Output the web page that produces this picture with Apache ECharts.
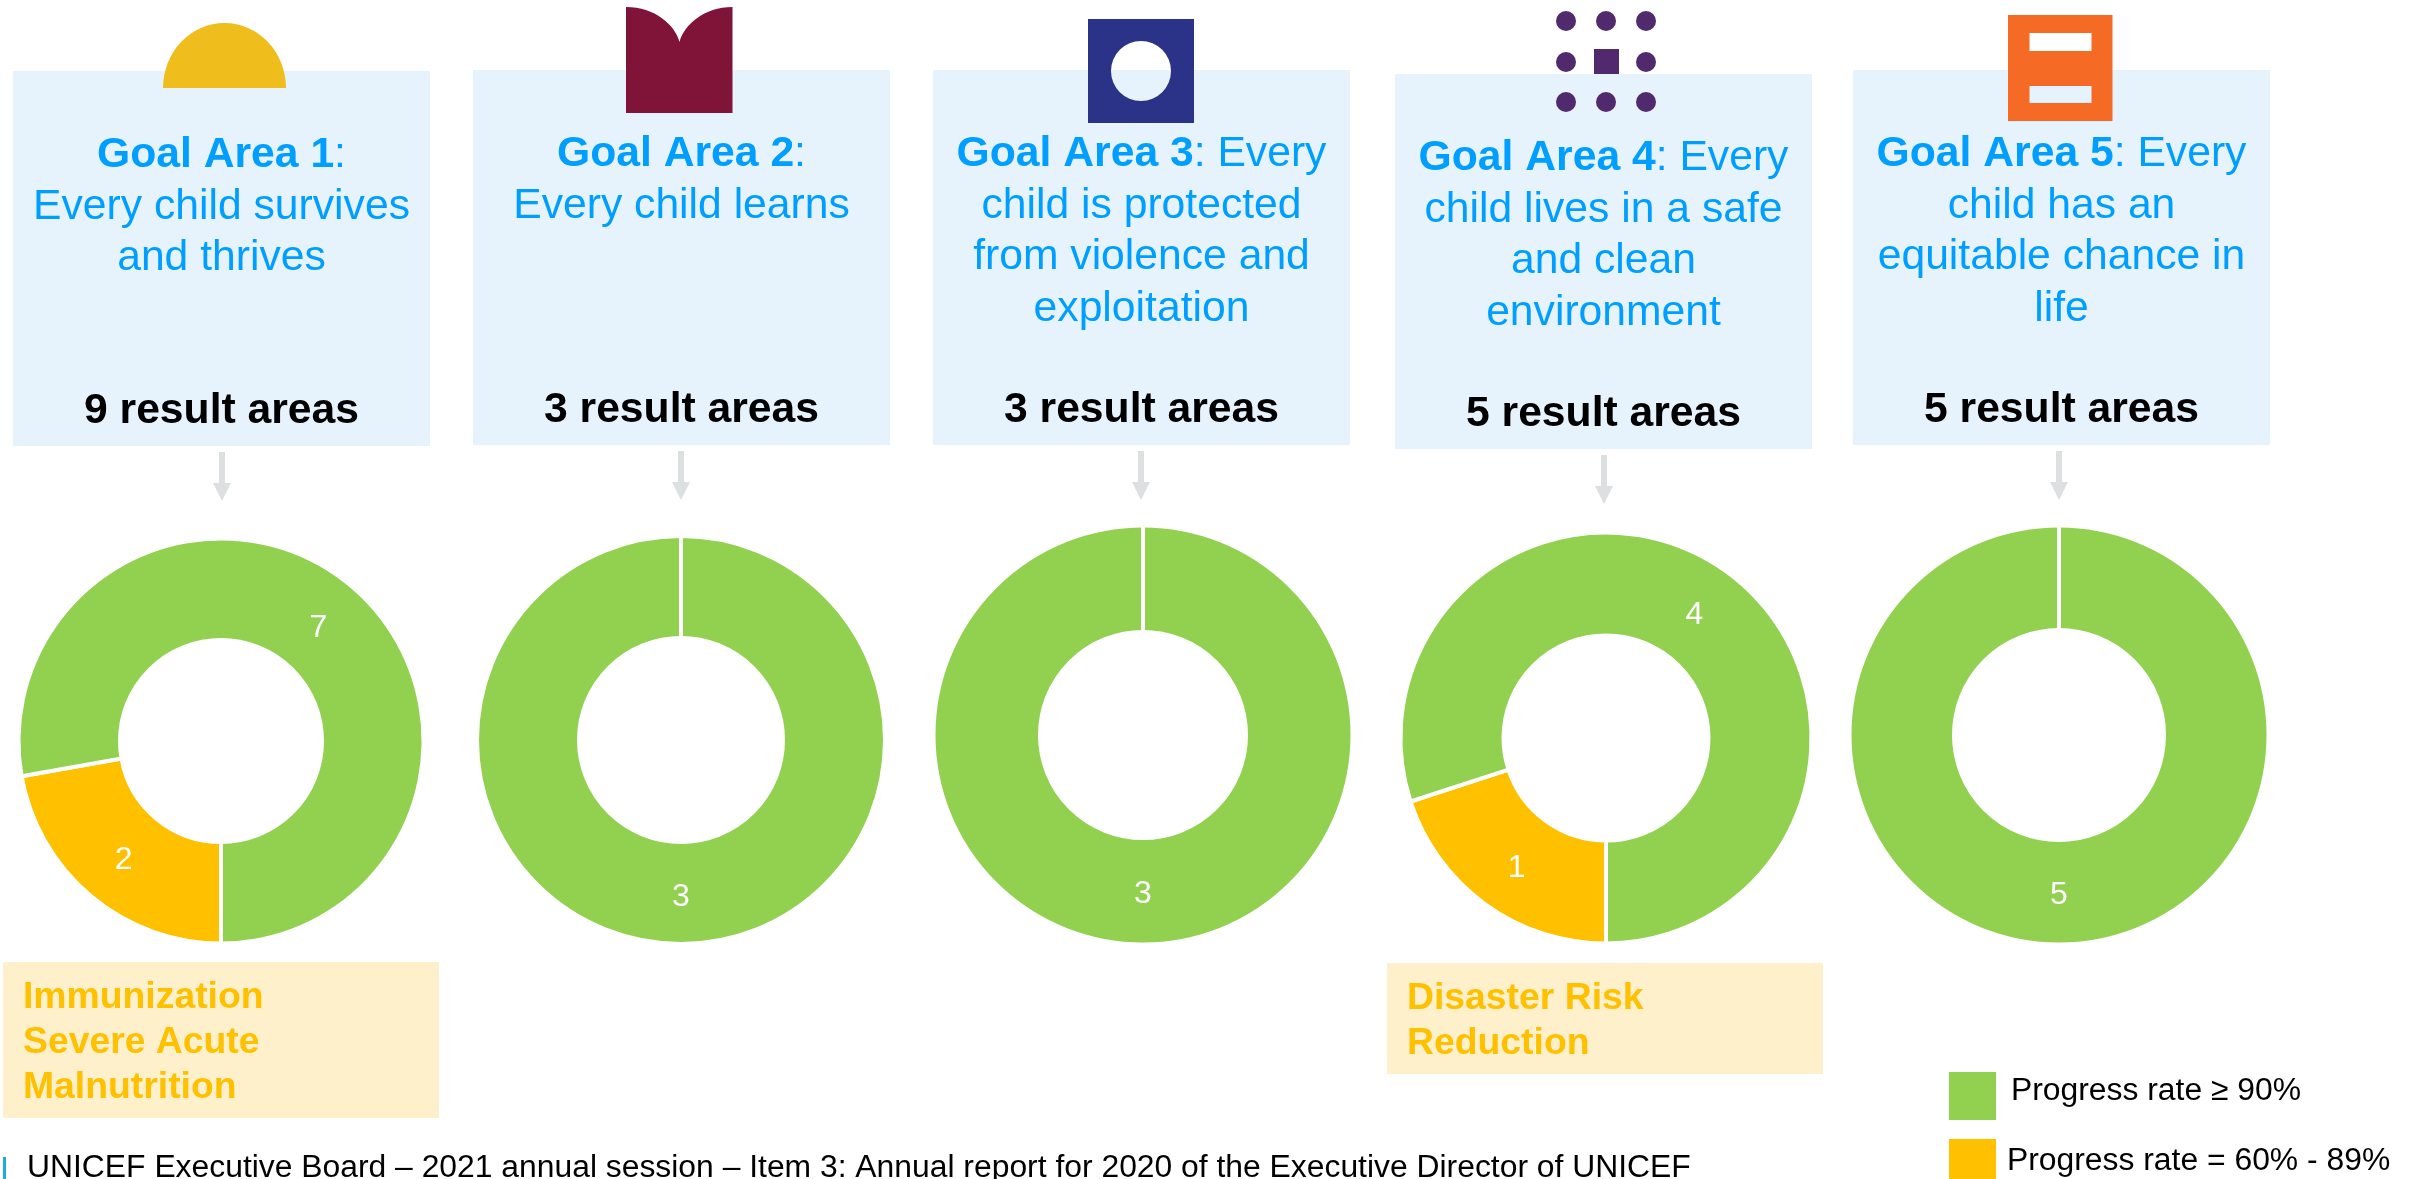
<!DOCTYPE html>
<html>
<head>
<meta charset="utf-8">
<title>UNICEF goal areas</title>
<script src="https://cdn.jsdelivr.net/npm/echarts@6/dist/echarts.min.js"></script>
<style>
  html, body { margin: 0; padding: 0; background: #fff; overflow: hidden; }
  #main { width: 2409px; height: 1179px; }
</style>
</head>
<body>
<div id="main"></div>
<script>
const greenName = "Progress rate ≥ 90%";
const orangeName = "Progress rate = 60% - 89%";

const goalTitles = ["Goal Area 1", "Goal Area 2", "Goal Area 3", "Goal Area 4", "Goal Area 5"];
const goalFirstLineTail = [":", ":", ": Every", ": Every", ": Every"];
const goalLines = [
  ["Every child survives", "and thrives"],
  ["Every child learns"],
  ["child is protected", "from violence and", "exploitation"],
  ["child lives in a safe", "and clean", "environment"],
  ["child has an", "equitable chance in", "life"]
];
const greenCounts = [7, 3, 3, 4, 5];
const orangeCounts = [2, 0, 0, 1, 0];
const footerText = "UNICEF Executive Board – 2021 annual session – Item 3: Annual report for 2020 of the Executive Director of UNICEF";

const GREEN = "#92D050";
const ORANGE = "#FFC000";
const BLUE = "#009EFF";
const PALE_BLUE = "#E6F3FD";
const PALE_ORANGE = "#FFF0CC";
const ARROW = "#DCE0E0";
const FONT = '"Liberation Sans", Arial, sans-serif';
const SEAM = 4;

// layout of the five columns, in page pixels
const boxes = [
  { x: 13, y: 71, w: 417, h: 375 },
  { x: 473, y: 70, w: 417, h: 375 },
  { x: 933, y: 70, w: 417, h: 375 },
  { x: 1395, y: 74, w: 417, h: 375 },
  { x: 1853, y: 70, w: 417, h: 375 }
];
// r0 and r are the visible radii, the white border eats SEAM / 2 of each
const donuts = [
  { cx: 221, cy: 741, r0: 103, r: 200.5, greenOffset: [-2, 6], orangeOffset: [2, 1] },
  { cx: 681, cy: 740, r0: 104, r: 202, greenOffset: [0, 1] },
  { cx: 1143, cy: 735, r0: 105, r: 207.5, greenOffset: [0, 0] },
  { cx: 1606, cy: 738, r0: 104.5, r: 203.5, greenOffset: [-4, 4], orangeOffset: [3, 3] },
  { cx: 2059, cy: 735, r0: 107, r: 207.5, greenOffset: [0, 0] }
];
const arrowX = [222, 681, 1141, 1604, 2059];

// icons with holes, the box colour shows through them
echarts.graphic.registerShape("sunIcon", echarts.graphic.extendPath("M163,88 A61.5,65 0 0 1 286,88 Z"));
echarts.graphic.registerShape("bookIcon", echarts.graphic.extendPath("M626,7 C655,7 675,25 679.5,42 C684,25 704,7 732.5,7 L732.5,113 L626,113 Z"));
echarts.graphic.registerShape("ringIcon", echarts.graphic.extendPath("M1088,19 H1194 V123 H1088 Z M1141,41 A30,30 0 1 0 1141,101 A30,30 0 1 0 1141,41 Z"));
echarts.graphic.registerShape("barsIcon", echarts.graphic.extendPath("M2008,15 H2112.5 V121 H2008 Z M2029.5,33 V51 H2091.5 V33 Z M2029.5,86 V103 H2091.5 V86 Z"));

function line(text, x, baseline, size, color, weight, align, rich) {
  return {
    type: "text",
    x: x,
    y: baseline - 0.35 * size,
    silent: true,
    style: {
      text: text,
      fill: color,
      font: (weight || "normal") + " " + size + "px " + FONT,
      align: align || "center",
      verticalAlign: "middle",
      rich: rich
    }
  };
}

const graphics = [];

// header boxes
boxes.forEach(function (b) {
  graphics.push({ type: "rect", silent: true, shape: { x: b.x, y: b.y, width: b.w, height: b.h }, style: { fill: PALE_BLUE } });
});

// goal icons
graphics.push({ type: "sunIcon", silent: true, style: { fill: "#EFBD1C" } });
graphics.push({ type: "bookIcon", silent: true, style: { fill: "#7F1438" } });
graphics.push({ type: "ringIcon", silent: true, style: { fill: "#2A3387" } });
[21, 62, 102].forEach(function (y, row) {
  [1566, 1606, 1646].forEach(function (x, col) {
    if (row === 1 && col === 1) return;
    graphics.push({ type: "circle", silent: true, shape: { cx: x, cy: y, r: 10 }, style: { fill: "#512A6E" } });
  });
});
graphics.push({ type: "rect", silent: true, shape: { x: 1594, y: 49, width: 25, height: 25 }, style: { fill: "#512A6E" } });
graphics.push({ type: "barsIcon", silent: true, style: { fill: "#F56B26" } });

// header text
boxes.forEach(function (b, i) {
  const cx = b.x + b.w / 2;
  const top = b.y + 99;
  graphics.push(line("{b|" + goalTitles[i] + "}" + goalFirstLineTail[i], cx, top, 42.67, BLUE, "normal", "center", {
    b: { font: "bold 42.67px " + FONT, fill: BLUE }
  }));
  goalLines[i].forEach(function (t, k) {
    graphics.push(line(t, cx, top + 51.7 * (k + 1), 42.67, BLUE));
  });
  graphics.push(line((greenCounts[i] + orangeCounts[i]) + " result areas", cx, b.y + 355, 42.67, "#000", "bold"));
});

// arrows between the boxes and the donuts
arrowX.forEach(function (x, i) {
  const y0 = boxes[i].y + 381;
  graphics.push({
    type: "polygon", silent: true,
    shape: { points: [[x - 3, y0], [x + 3, y0], [x + 3, y0 + 31], [x + 9, y0 + 31], [x, y0 + 49], [x - 9, y0 + 31], [x - 3, y0 + 31]] },
    style: { fill: ARROW }
  });
});

// callouts for the result areas below target
graphics.push({ type: "rect", silent: true, shape: { x: 3, y: 962, width: 436, height: 156 }, style: { fill: PALE_ORANGE } });
["Immunization", "Severe Acute", "Malnutrition"].forEach(function (t, k) {
  graphics.push(line(t, 23, 1011 + 45 * k, 37.33, ORANGE, "bold", "left"));
});
graphics.push({ type: "rect", silent: true, shape: { x: 1387, y: 963, width: 436, height: 111 }, style: { fill: PALE_ORANGE } });
["Disaster Risk", "Reduction"].forEach(function (t, k) {
  graphics.push(line(t, 1407, 1012 + 44.5 * k, 37.33, ORANGE, "bold", "left"));
});

// footer
graphics.push({ type: "rect", silent: true, shape: { x: 3, y: 1157, width: 3, height: 22 }, style: { fill: "#1CABE2" } });
graphics.push(line(footerText, 27, 1179, 31.85, "#000", "normal", "left"));

// white seam at the top of the single colour donuts
donuts.forEach(function (d, i) {
  if (orangeCounts[i] > 0) return;
  graphics.push({
    type: "rect", silent: true, z: 10,
    shape: { x: d.cx - SEAM / 2, y: d.cy - d.r - 2, width: SEAM, height: d.r - d.r0 + 4 },
    style: { fill: "#fff" }
  });
});

const series = donuts.map(function (d, i) {
  const data = [];
  if (orangeCounts[i] > 0) {
    data.push({ name: orangeName, value: orangeCounts[i], itemStyle: { color: ORANGE }, label: { offset: d.orangeOffset } });
  }
  data.push({ name: greenName, value: greenCounts[i], itemStyle: { color: GREEN }, label: { offset: d.greenOffset } });
  return {
    type: "pie",
    center: [d.cx, d.cy],
    radius: [d.r0 - SEAM / 2, d.r + SEAM / 2],
    startAngle: orangeCounts[i] > 0 ? 270 : 90,
    clockwise: true,
    silent: true,
    animation: false,
    avoidLabelOverlap: false,
    itemStyle: { borderColor: "#fff", borderWidth: SEAM },
    label: { show: true, position: "inside", formatter: "{c}", color: "#fff", fontSize: 32, fontFamily: FONT },
    labelLine: { show: false },
    data: data
  };
});

const myChart = echarts.init(document.getElementById("main"));
myChart.setOption({
  animation: false,
  backgroundColor: "#fff",
  legend: [
    {
      data: [greenName], orient: "vertical", left: 1942, top: 1065, itemWidth: 49, itemHeight: 50, selectedMode: false,
      icon: "rect",
      formatter: "{t|{name}}",
      textStyle: { rich: { t: { color: "#000", fontSize: 31.85, fontFamily: FONT, padding: [0, 0, 9, 9] } } }
    },
    {
      data: [orangeName], orient: "vertical", left: 1942, top: 1132, itemWidth: 49, itemHeight: 50, selectedMode: false,
      icon: "rect",
      formatter: "{t|{name}}",
      textStyle: { rich: { t: { color: "#000", fontSize: 31.85, fontFamily: FONT, padding: [0, 0, 3, 5] } } }
    }
  ],
  graphic: { elements: graphics },
  series: series
});
</script>
</body>
</html>
